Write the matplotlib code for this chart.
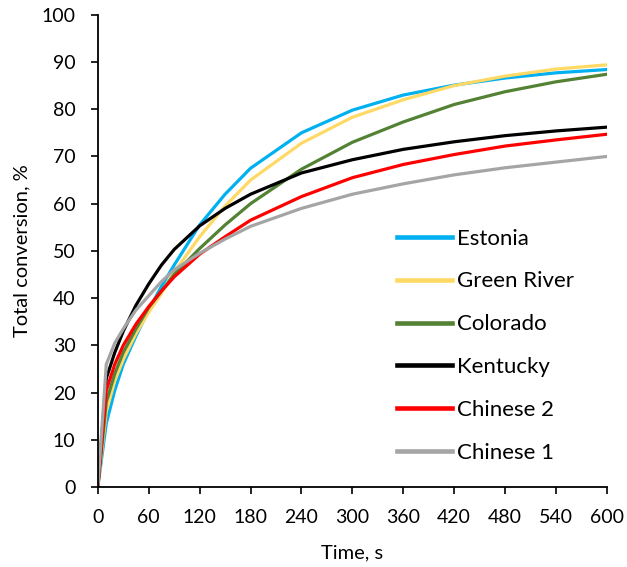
import matplotlib
matplotlib.use("Agg")
import matplotlib.pyplot as plt

plt.rcParams['font.family'] = ['Lato', 'DejaVu Sans']

time_s = [0, 10, 20, 30, 45, 60, 75, 90, 120, 150, 180, 240, 300, 360, 420, 480, 540, 600]
estonia = [0, 13.5, 20.5, 26, 32, 37.5, 42.5, 47, 55.5, 62, 67.5, 75, 79.8, 83, 85.1, 86.6, 87.7, 88.4]
green_river = [0, 16, 22.5, 27, 32.5, 37, 41, 45.5, 53, 59.5, 65, 72.8, 78.3, 82, 85, 87, 88.5, 89.4]
colorado = [0, 18, 24, 28.5, 33.5, 38, 41.5, 45, 50.5, 55.5, 60, 67.3, 73, 77.3, 81, 83.7, 85.8, 87.4]
kentucky = [0, 23, 28.5, 33, 38.5, 43, 47, 50.3, 55.3, 59, 62, 66.5, 69.3, 71.5, 73.1, 74.4, 75.4, 76.2]
chinese2 = [0, 20.5, 26, 30, 34.5, 38.2, 41.5, 44.5, 49.3, 53, 56.5, 61.5, 65.5, 68.3, 70.4, 72.2, 73.5, 74.7]
chinese1 = [0, 26, 30.5, 33.5, 37.5, 40.5, 43.5, 46, 49.5, 52.5, 55.2, 59, 62, 64.2, 66.1, 67.6, 68.8, 70]

series = [
    ("Estonia", estonia, "#00B0F0"),
    ("Green River", green_river, "#FFD966"),
    ("Colorado", colorado, "#548235"),
    ("Kentucky", kentucky, "#000000"),
    ("Chinese 2", chinese2, "#FF0000"),
    ("Chinese 1", chinese1, "#A5A5A5"),
]

x_ticks = list(range(0, 601, 60))
y_ticks = list(range(0, 101, 10))

fig = plt.figure(figsize=(6.27, 5.67), dpi=100)
ax = fig.add_axes([0.156, 0.141, 0.812, 0.833])

for name, vals, col in series:
    ax.plot(time_s, vals, color=col, lw=2.3, label=name, solid_joinstyle='round')

ax.set_xlim(0, 600)
ax.set_ylim(0, 100)
ax.set_xticks(x_ticks)
ax.set_yticks(y_ticks)
ax.tick_params(direction='out', length=5, width=1.2, labelsize=14, colors='black')
ax.tick_params(axis='x', pad=11)
ax.tick_params(axis='y', pad=11)
for s in ['top', 'right']:
    ax.spines[s].set_visible(False)
for s in ['left', 'bottom']:
    ax.spines[s].set_linewidth(1.3)
ax.set_xlabel("Time, s", fontsize=14.5, labelpad=13)
ax.set_ylabel("Total conversion, %", fontsize=14.5, labelpad=8)

leg = ax.legend(loc='upper left', bbox_to_anchor=(0.633, 0.597), bbox_transform=fig.transFigure,
                frameon=False, fontsize=16, handlelength=2.5, handletextpad=0.2,
                labelspacing=1.03, borderaxespad=0, borderpad=0)
for h in leg.get_lines():
    h.set_linewidth(3.3)

fig.savefig("out.png", dpi=100)
